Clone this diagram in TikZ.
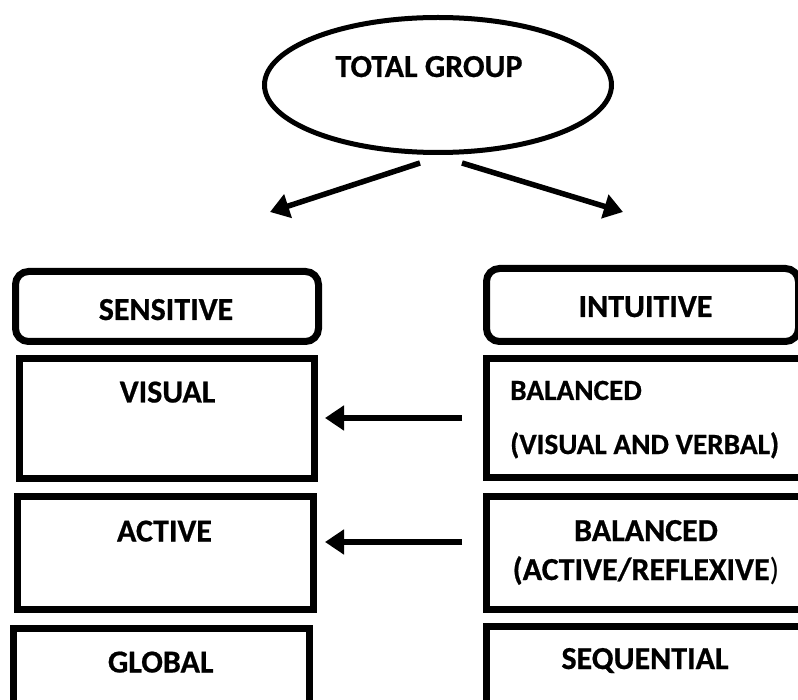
\documentclass[tikz,border=0pt]{standalone}
\usepackage{fontspec}
\setmainfont{Carlito}[BoldFeatures={FakeBold=0.6}]
\usetikzlibrary{arrows.meta,shapes.geometric}
\tikzset{
  box/.style={draw, line width=7pt, rectangle, inner sep=0pt},
  rbox/.style={box, rounded corners=13pt},
  txt/.style={inner sep=0pt, anchor=base, font=\fontsize{32}{38}\selectfont\bfseries},
  smalltxt/.style={txt, font=\fontsize{29.3}{35}\selectfont\bfseries},
  conn/.style={line width=5.5pt, -{Triangle[length=19pt,width=24pt]}},
}
\begin{document}
\begin{tikzpicture}[x=1pt,y=-1pt]
\clip (0,0) rectangle (798,700);
\fill[white] (0,0) rectangle (798,700);
% ellipse
\node[draw, ellipse, line width=5pt, minimum width=347pt, minimum height=135pt, inner sep=0pt] (total) at (438,85) {};
\node[txt] (totalt) at (429,77) {TOTAL GROUP};
% left column
\node[rbox, minimum width=303pt, minimum height=70pt] (sens) at (167,306.5) {};
\node[box, minimum width=295pt, minimum height=120pt] (vis) at (167,418.5) {};
\node[box, minimum width=296pt, minimum height=113pt] (act) at (165.5,553) {};
\node[box, minimum width=296pt, minimum height=100pt] (glob) at (161.5,678.5) {};
\node[txt] (senst) at (166,320) {SENSITIVE};
\node[txt] (vist) at (167.5,402.5) {VISUAL};
\node[txt] (actt) at (164.5,541.5) {ACTIVE};
\node[txt] (globt) at (160.7,672.5) {GLOBAL};
% right column
\node[rbox, minimum width=312pt, minimum height=73pt] (intu) at (642.5,305) {};
\node[box, minimum width=330pt, minimum height=119pt] (bal1) at (651.5,418) {};
\node[box, minimum width=330pt, minimum height=113pt] (bal2) at (651.5,553) {};
\node[box, minimum width=330pt, minimum height=100pt] (seq) at (651.5,676.5) {};
\node[txt] (intut) at (645.5,317) {INTUITIVE};
\node[smalltxt, anchor=base west] (bal1a) at (510,400) {BALANCED};
\node[smalltxt, anchor=base west] (bal1b) at (510,454) {(VISUAL AND VERBAL)};
\node[txt] (bal2a) at (646,541) {BALANCED};
\node[txt] (bal2b) at (646,580) {(ACTIVE/REFLEXIVE\mdseries)};
\node[txt] (seqt) at (645,669) {SEQUENTIAL};
% connectors
\coordinate (l0) at (420,163);
\coordinate (l1) at (270,212);
\coordinate (r0) at (462,163);
\coordinate (r1) at (623,212);
\coordinate (h1s) at (462,418);
\coordinate (h1e) at (325,418);
\coordinate (h2s) at (462,542);
\coordinate (h2e) at (325,542);
\draw[conn] (l0) -- (l1);
\draw[conn] (r0) -- (r1);
\draw[conn] (h1s) -- (h1e);
\draw[conn] (h2s) -- (h2e);
\end{tikzpicture}
\end{document}
